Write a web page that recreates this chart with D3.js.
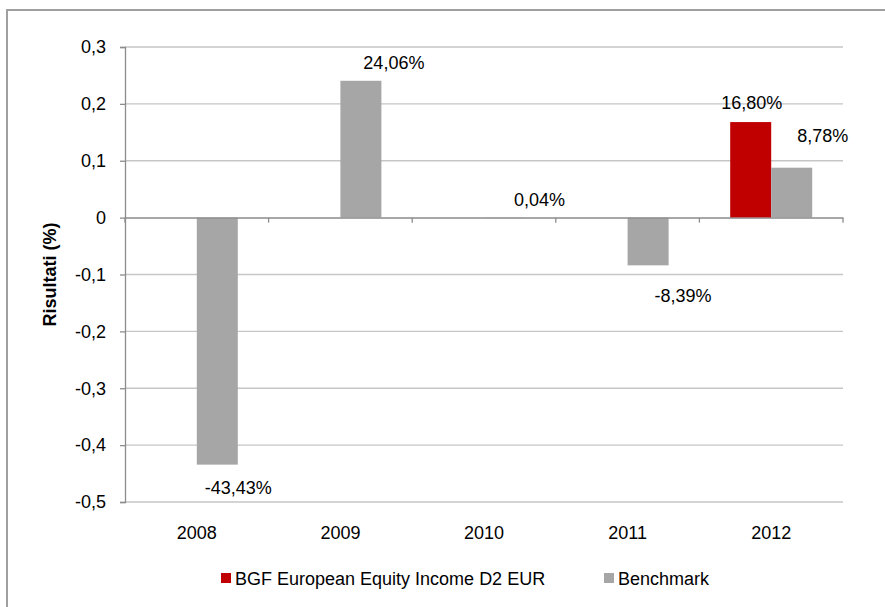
<!DOCTYPE html>
<html>
<head>
<meta charset="utf-8">
<script src="https://cdn.jsdelivr.net/npm/d3@7"></script>
<style>
  body { margin: 0; background: #fff; }
  svg { display: block; font-family: "Liberation Sans", Arial, sans-serif; }
</style>
</head>
<body>
<svg id="chart" width="885" height="607"></svg>
<script>
// Chart data
const years = ["2008", "2009", "2010", "2011", "2012"];
const seriesNames = ["BGF European Equity Income D2 EUR", "Benchmark"];
const fundValues = [null, null, null, null, 0.168];
const benchmarkValues = [-0.4343, 0.2406, 0.0004, -0.0839, 0.0878];
const yTicks = [0.3, 0.2, 0.1, 0, -0.1, -0.2, -0.3, -0.4, -0.5];

const colors = ["#c00000", "#a6a6a6"];
const fontSize = "18px";

// label nudges (Excel labels were dragged around a bit)
const labelShift = {
  "0-4": [1, -19],
  "1-0": [21, 23],
  "1-1": [33, -18],
  "1-2": [35, -18],
  "1-3": [35, 30],
  "1-4": [31, -32]
};

const svg = d3.select("#chart");
const margin = { left: 125, right: 42, top: 47, bottom: 105 };
const width = 885 - margin.left - margin.right;
const height = 607 - margin.top - margin.bottom;

// outer frame
svg.append("rect")
  .attr("x", 7).attr("y", 10)
  .attr("width", 900).attr("height", 620)
  .attr("fill", "none")
  .attr("stroke", "#a0a0a0")
  .attr("stroke-width", 2);

const g = svg.append("g").attr("transform", `translate(${margin.left},${margin.top})`);

const x = d3.scaleBand().domain(years).range([0, width]);
const inner = d3.scaleBand().domain([0, 1]).range([0, 82]);
const y = d3.scaleLinear().domain([-0.5, 0.3]).range([height, 0]);

const fmtTick = (d) => d === 0 ? "0" : d3.format(".1f")(d).replace(".", ",").replace("−", "-");
const fmtPct = (d) => (d * 100).toFixed(2).replace(".", ",") + "%";

// gridlines
g.selectAll(".grid")
  .data(yTicks)
  .enter().append("line")
  .attr("x1", 0).attr("x2", width)
  .attr("y1", (d) => y(d)).attr("y2", (d) => y(d))
  .attr("stroke", "#c6c6c6")
  .attr("stroke-width", 1.3);

// y axis
const yAxis = g.append("g")
  .call(d3.axisLeft(y).tickValues(yTicks).tickSize(5).tickPadding(14).tickFormat(fmtTick));
yAxis.select(".domain").attr("stroke", "#8c8c8c").attr("stroke-width", 1.3);
yAxis.selectAll(".tick line").attr("stroke", "#8c8c8c").attr("stroke-width", 1.3);
yAxis.selectAll(".tick text")
  .attr("font-size", fontSize)
  .attr("fill", "#000")
  .style("font-family", "Liberation Sans, Arial, sans-serif");

// bars
const series = [fundValues, benchmarkValues];
series.forEach((vals, si) => {
  const data = years.map((yr, i) => ({ yr, v: vals[i], i }))
    .filter((d) => d.v !== null);
  const off = (x.bandwidth() - inner.range()[1]) / 2;
  g.selectAll(".bar" + si)
    .data(data)
    .enter().append("rect")
    .attr("x", (d) => x(d.yr) + off + inner(si))
    .attr("width", inner.bandwidth())
    .attr("y", (d) => y(Math.max(0, d.v)))
    .attr("height", (d) => Math.abs(y(d.v) - y(0)))
    .attr("fill", colors[si]);

  g.selectAll(".lbl" + si)
    .data(data)
    .enter().append("text")
    .attr("x", (d) => x(d.yr) + off + inner(si) + inner.bandwidth() / 2 + labelShift[si + "-" + d.i][0])
    .attr("y", (d) => y(d.v) + labelShift[si + "-" + d.i][1])
    .attr("dy", "0.35em")
    .attr("text-anchor", "middle")
    .attr("font-size", fontSize)
    .attr("fill", "#000")
    .text((d) => fmtPct(d.v));
});

// x axis on zero line
const xAxis = g.append("g")
  .attr("transform", `translate(0,${y(0)})`)
  .call(d3.axisBottom(x).tickSize(0).tickFormat(""));
xAxis.select(".domain").attr("stroke", "#8c8c8c").attr("stroke-width", 1.3);
xAxis.selectAll(".tick").remove();
g.selectAll(".xtick")
  .data(years.concat(["end"]))
  .enter().append("line")
  .attr("x1", (d, i) => i * x.step()).attr("x2", (d, i) => i * x.step())
  .attr("y1", y(0)).attr("y2", y(0) + 5)
  .attr("stroke", "#8c8c8c")
  .attr("stroke-width", 1.3);

// category labels under the plot
g.selectAll(".xlabel")
  .data(years)
  .enter().append("text")
  .attr("x", (d) => x(d) + x.bandwidth() / 2)
  .attr("y", height + 37)
  .attr("text-anchor", "middle")
  .attr("font-size", fontSize)
  .attr("fill", "#000")
  .text((d) => d);

// y axis title
svg.append("text")
  .attr("transform", `translate(50,${margin.top + height / 2}) rotate(-90)`)
  .attr("text-anchor", "middle")
  .attr("dy", "0.35em")
  .attr("font-size", fontSize)
  .attr("font-weight", "bold")
  .attr("fill", "#000")
  .text("Risultati (%)");

// legend
const legendX = [221, 604];
const legend = svg.selectAll(".legend")
  .data(seriesNames)
  .enter().append("g")
  .attr("transform", (d, i) => `translate(${legendX[i]},579)`);
legend.append("rect")
  .attr("x", 0).attr("y", -6)
  .attr("width", 10).attr("height", 10)
  .attr("fill", (d, i) => colors[i]);
legend.append("text")
  .attr("x", 14).attr("y", 0)
  .attr("dy", "0.35em")
  .attr("font-size", fontSize)
  .attr("fill", "#000")
  .text((d) => d);
</script>
</body>
</html>
